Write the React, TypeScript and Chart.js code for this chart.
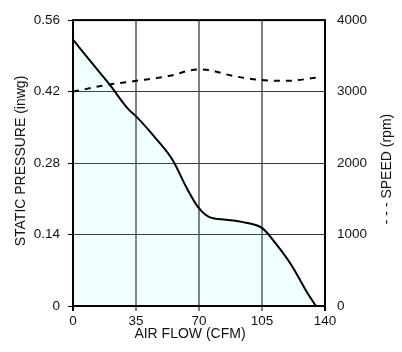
import React, { useEffect, useRef } from "react";
import { Chart, registerables } from "chart.js";

Chart.register(...registerables);

// Air flow (CFM) for the static pressure curve
const flow = [0, 10, 20.5, 30.6, 35.2, 46.3, 55.5, 62.9, 69.4, 75.8, 85, 96.1, 105.3, 112.7, 121.9, 129.3, 134.9];
// Static pressure (inwg)
const pressure = [0.522, 0.478, 0.433, 0.386, 0.371, 0.327, 0.285, 0.233, 0.194, 0.174, 0.169, 0.163, 0.152, 0.122, 0.077, 0.031, 0];
// Air flow (CFM) for the speed curve
const speedFlow = [0, 20.5, 35.2, 53.7, 69.4, 75.8, 88.7, 103.5, 118.3, 135.8];
// Speed (rpm)
const speed = [3000, 3100, 3150, 3220, 3310, 3300, 3220, 3165, 3150, 3195];

const xTitle = "AIR FLOW (CFM)";
const yTitle = "STATIC PRESSURE (inwg)";
const y2Title = "- - - SPEED (rpm)";

const FONT = "'Liberation Sans', Arial, Helvetica, sans-serif";

const titlesPlugin = {
  id: "titles",
  afterDraw(chart: any) {
    const ctx = chart.ctx;
    const a = chart.chartArea;
    ctx.save();
    ctx.strokeStyle = "#000";
    ctx.lineWidth = 2;
    ctx.strokeRect(a.left, a.top, a.right - a.left, a.bottom - a.top);
    ctx.fillStyle = "#111";
    ctx.font = `14px ${FONT}`;
    ctx.textAlign = "center";
    ctx.textBaseline = "middle";
    ctx.fillText(xTitle, 190, 334);
    ctx.save();
    ctx.translate(21, 161);
    ctx.rotate(-Math.PI / 2);
    ctx.fillText(yTitle, 0, 0);
    ctx.restore();
    ctx.save();
    ctx.translate(387, 169);
    ctx.rotate(-Math.PI / 2);
    ctx.fillText(y2Title, 0, 0);
    ctx.restore();
    ctx.restore();
  },
};

export default function App() {
  const ref = useRef<HTMLCanvasElement>(null);
  useEffect(() => {
    const canvas = ref.current!;
    const chart = new Chart(canvas, {
      type: "line",
      data: {
        datasets: [
          {
            label: "Speed",
            data: speedFlow.map((x, i) => ({ x, y: speed[i] })),
            yAxisID: "y2",
            borderColor: "#000",
            borderWidth: 2,
            borderDash: [6, 6],
            pointRadius: 0,
            tension: 0.4,
            cubicInterpolationMode: "monotone",
            fill: false,
          },
          {
            label: "Static pressure",
            data: flow.map((x, i) => ({ x, y: pressure[i] })),
            yAxisID: "y",
            borderColor: "#000",
            borderWidth: 2,
            pointRadius: 0,
            tension: 0.4,
            cubicInterpolationMode: "monotone",
            fill: "origin",
            backgroundColor: "rgba(0, 255, 255, 0.06)",
          },
        ],
      },
      options: {
        animation: false,
        responsive: false,
        devicePixelRatio: 1,
        layout: { padding: { top: 19, left: 0, right: 0, bottom: 0 } },
        plugins: { legend: { display: false }, tooltip: { enabled: false } },
        scales: {
          x: {
            type: "linear",
            min: 0,
            max: 140,
            afterFit: (s: any) => { s.height = 46; },
            ticks: { stepSize: 35, padding: 2, color: "#111", font: { family: FONT, size: 13.5 }, maxRotation: 0 },
            grid: {
              color: (c: any) => (c.tick && (c.tick.value === 0 || c.tick.value === 140) ? "rgba(0,0,0,0)" : "#808080"),
              tickColor: (c: any) => (c.tick && (c.tick.value === 0 || c.tick.value === 140) ? "#000" : "#808080"),
              lineWidth: 2,
              tickLength: 5,
            },
            border: { display: false },
          },
          y: {
            type: "linear",
            position: "left",
            min: 0,
            max: 0.56,
            afterFit: (s: any) => { s.width = 73; },
            ticks: {
              stepSize: 0.14,
              padding: 8,
              color: "#111",
              font: { family: FONT, size: 13.5 },
              callback: (v: any) => (Math.abs(v) < 1e-9 ? "0" : Number(v).toFixed(2)),
            },
            grid: {
              color: (c: any) => (c.tick && (c.tick.value < 1e-9 || c.tick.value > 0.559) ? "rgba(0,0,0,0)" : "#3c3c3c"),
              tickColor: "#000",
              lineWidth: 1,
              tickLength: 5,
            },
            border: { display: false },
          },
          y2: {
            type: "linear",
            position: "right",
            min: 0,
            max: 4000,
            afterFit: (s: any) => { s.width = 77; },
            ticks: {
              stepSize: 1000,
              padding: 12,
              color: "#111",
              font: { family: FONT, size: 13.5 },
              callback: (v: any) => String(Math.round(Number(v))),
            },
            grid: { drawOnChartArea: false, drawTicks: false },
            border: { display: false },
          },
        },
      },
      plugins: [titlesPlugin],
    });
    return () => chart.destroy();
  }, []);
  return (
    <div style={{ position: "absolute", left: 0, top: 0, width: 402, height: 352, background: "#fff" }}>
      <canvas ref={ref} width={402} height={352} style={{ width: 402, height: 352, display: "block" }} />
    </div>
  );
}
